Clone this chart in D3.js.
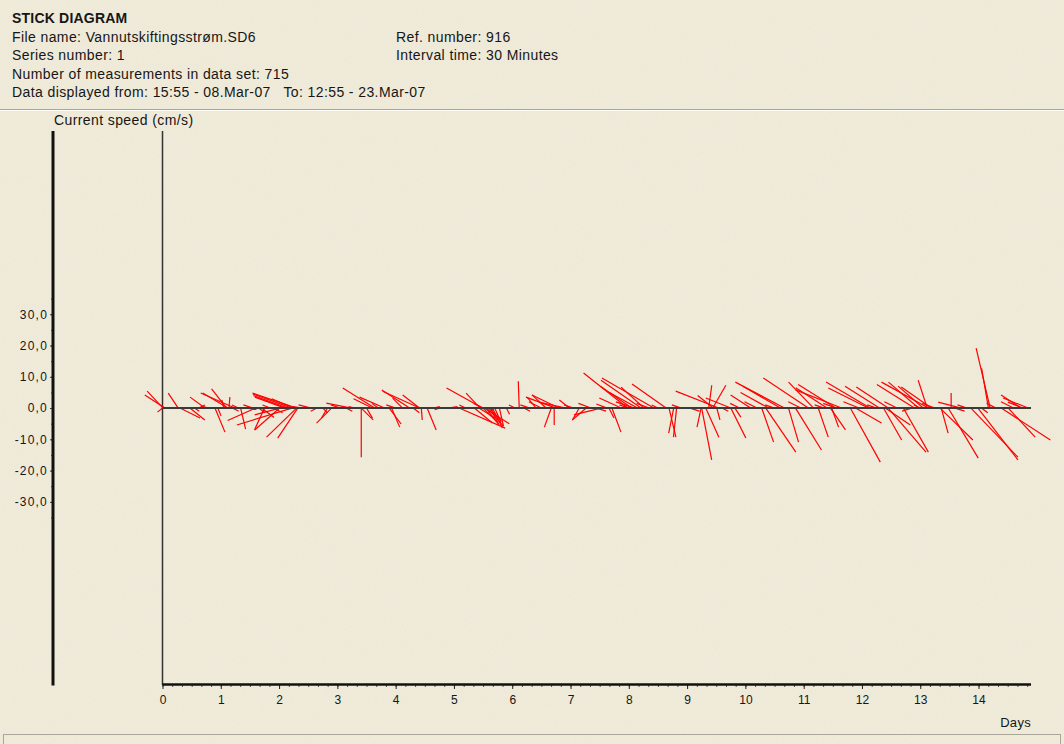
<!DOCTYPE html>
<html>
<head>
<meta charset="utf-8">
<script src="https://cdn.jsdelivr.net/npm/d3@7"></script>
<style>
  body { margin: 0; background: #efead8; }
  svg { display: block; }
  text { font-family: "Liberation Sans", Arial, sans-serif; fill: #161616; }
</style>
</head>
<body>
<svg id="chart" width="1064" height="744"></svg>
<script>
// header lines
let titleText = "STICK DIAGRAM"
let infoLeft = [
  "File name: Vannutskiftingsstrøm.SD6",
  "Series number: 1",
  "Number of measurements in data set: 715",
  "Data displayed from: 15:55 - 08.Mar-07   To: 12:55 - 23.Mar-07"
]
let infoRight = ["Ref. number: 916", "Interval time: 30 Minutes"]

let yTicks = [30, 20, 10, 0, -10, -20, -30]
let yTickLabels = ["30,0", "20,0", "10,0", "0,0", "-10,0", "-20,0", "-30,0"]
let dayTicks = [0, 1, 2, 3, 4, 5, 6, 7, 8, 9, 10, 11, 12, 13, 14]

// sticks: time (days), east and north component (cm/s)
let stickDay = [
  0.01, 0.04, 0.00, 0.27, 0.30, 0.47, 0.73, 0.90, 1.05, 1.10, 1.12, 1.14, 1.24, 1.34, 1.75,
  2.01, 2.01, 2.10, 2.22, 2.30, 2.22, 2.30, 2.32, 2.83, 2.90, 3.24, 3.41, 3.41, 3.50, 3.64,
  3.81, 3.89, 3.93, 4.12, 4.24, 4.41, 4.41, 4.44, 4.54, 5.09, 5.35, 5.43, 5.49, 5.45, 5.55,
  5.61, 5.66, 5.78, 6.12, 6.41, 6.58, 6.67, 6.72, 6.75, 6.80, 6.92, 6.98, 7.15, 7.27, 7.52,
  7.63, 7.66, 7.71, 7.87, 7.98, 8.21, 8.26, 8.43, 8.64, 8.69, 8.77, 8.82, 9.24, 9.25, 9.32,
  9.37, 9.44, 9.51, 9.54, 9.75, 9.75, 9.82, 10.09, 10.28, 10.35, 10.67, 10.74, 10.86, 11.08, 11.17,
  11.25, 11.46, 11.48, 11.65, 11.80, 11.89, 12.11, 12.14, 12.37, 12.40, 12.45, 12.45, 12.71, 12.97, 13.12,
  13.14, 13.19, 13.34, 13.36, 13.48, 13.53, 13.70, 13.87, 13.99, 14.20, 14.17, 14.39, 14.51, 14.73, 14.85,
  14.76,
  0.55, 0.62, 0.80, 0.95, 1.20, 1.30, 1.45, 1.55, 1.65, 1.85, 1.90, 2.40, 2.55, 2.65, 2.75,
  3.05, 3.15, 3.30, 3.70, 4.00, 4.30, 4.65, 4.75, 4.90, 5.20, 5.50, 5.70, 5.90, 6.05, 6.20,
  6.30, 6.50, 7.05, 7.35, 7.45, 8.00, 8.10, 8.35, 8.50, 8.90, 9.05, 9.60, 9.90, 10.20, 10.50,
  10.95, 11.35, 11.55, 11.95, 12.25, 12.60, 12.85, 13.00, 13.25, 13.60, 13.80, 14.05, 14.30, 14.60,
  5.50, 5.58, 5.63, 5.70, 5.52, 2.15, 2.25, 8.05, 8.15, 10.60, 11.40, 11.55, 12.30, 12.90, 13.05,
  1.60, 1.70, 3.60, 9.45, 10.40
]
let stickEast = [
  -5.1, -6.4, -1.6, -3.2, 6.4, 4.8, -4.8, 3.2, -0.6, -4.8, -8.0, 0.3, -10.9, 1.6, -3.2,
  -8.0, -8.0, -9.6, -12.5, -14.1, -17.6, -9.6, -6.4, -1.9, -4.8, -8.0, 0.0, 3.8, 1.9, -10.2,
  -8.0, 3.8, 2.6, -3.2, -8.9, -11.8, -5.4, 0.3, 2.9, 14.7, 5.8, 5.1, -11.5, -4.5, 4.2,
  3.8, 3.2, 1.3, -0.3, -2.9, -4.5, -2.2, 0.0, -9.6, -8.6, -8.6, -3.2, -2.2, -4.5, -8.6,
  -3.5, 1.6, 2.9, -7.0, -14.1, -12.8, -7.3, -16.6, -10.9, 2.2, -1.6, -1.0, -1.3, 3.2, 4.2,
  1.0, 4.2, 1.0, -13.7, -8.0, 4.8, 1.9, -6.4, 3.8, 9.6, -15.7, 3.2, 8.3, -14.4, -8.0,
  3.2, 4.8, 2.2, -14.7, 9.6, 8.3, -12.8, -14.1, 5.8, 8.0, -10.2, 12.1, 8.0, -9.6, -2.9,
  -15.0, -9.6, 10.5, 2.2, 9.6, 0.0, -7.3, 15.0, 12.8, -4.5, -2.2, 15.7, 8.6, -6.4, -8.0,
  -4.8,
  1.5, 2.0, -2.0, 1.0, 2.0, -2.0, 3.0, -3.0, 2.0, -2.5, 3.0, -3.0, -4.0, -2.0, 1.5,
  -3.0, 2.0, -2.0, -2.0, -3.0, 2.0, 2.0, -1.5, 3.0, -2.0, -3.0, -2.0, 1.0, -2.0, 2.0,
  -3.0, -4.0, -3.0, -4.0, 3.0, -3.0, -6.0, -4.0, -2.0, -3.0, 3.0, 2.0, -3.0, -4.0, -3.0,
  -4.0, -3.0, -4.0, -5.0, -3.0, -4.0, -3.0, -2.0, -4.0, 3.0, -3.0, 2.0, -3.0, -4.0,
  4.5, 5.0, 2.5, 2.0, 8.0, -11.0, -7.0, -10.0, -9.0, -12.0, -10.0, -12.0, -11.0, -12.0, -8.0,
  -9.0, 4.0, -6.0, -5.0, -9.0
]
let stickNorth = [
  5.4, 4.2, -1.3, 4.8, -3.2, -3.8, 3.5, -7.7, 2.6, 6.1, 4.8, 3.5, 4.8, -6.7, -7.0,
  -2.2, -7.0, 3.5, 4.5, 4.8, -5.4, -9.3, -9.6, -3.2, -4.8, 1.6, -15.7, -3.8, -3.2, 6.4,
  3.5, -5.1, -6.1, 3.2, 5.8, 5.4, 4.2, -3.8, -7.0, -6.4, -4.8, -3.2, 6.4, 4.8, -5.4,
  -4.2, -6.4, -5.8, 8.6, 3.5, 4.2, -6.1, -5.4, 3.5, 4.2, 1.9, 2.6, -3.8, -3.8, -2.2,
  1.3, -3.2, -7.7, 3.2, 11.2, 8.9, 6.7, 9.6, 7.7, -9.3, -8.0, -9.3, -6.1, -16.6, -9.3,
  7.3, 7.3, -3.8, 5.4, 3.2, -9.6, -2.9, 4.2, -10.9, -14.1, 8.3, -10.9, -13.4, 9.6, 8.3,
  -9.3, -7.0, -6.1, 5.8, -17.3, -4.8, 6.4, 8.3, -10.2, -5.4, 6.7, -14.1, -14.1, 8.3, 8.9,
  8.3, 6.7, -10.2, -8.0, -16.0, 4.8, 1.9, -15.7, -16.6, 19.2, 12.8, -10.2, -9.3, 4.2, 3.2,
  1.9,
  -1.0, 1.0, 0.5, -2.5, -1.0, 1.0, -0.5, 1.0, -1.5, 1.0, -1.5, 0.5, 1.0, -1.0, -1.5,
  1.0, -1.0, 0.5, 1.5, 1.0, -1.5, 0.5, -0.5, 0.5, 1.0, 1.5, -1.5, -2.0, 1.0, -1.0,
  1.0, 2.0, 1.0, 1.5, -1.0, 1.0, 2.0, 1.5, 1.0, 1.0, -1.0, -1.0, 1.5, 2.0, 1.0,
  2.0, 1.0, 1.5, 2.0, 1.0, 2.0, -1.0, 1.0, 1.5, -1.0, 1.0, -1.5, 1.5, 2.0,
  -4.5, -5.8, -5.0, -4.5, -5.0, 4.0, 3.0, 7.0, 5.0, 7.0, 6.5, 7.5, 7.0, 7.5, 7.0,
  -4.0, -3.0, 3.0, 4.0, 5.0
]

let svg = d3.select("#chart")

// paper grain
let defs = svg.append("defs")
let grain = defs.append("filter").attr("id", "grain").attr("x", 0).attr("y", 0).attr("width", "100%").attr("height", "100%")
grain.append("feTurbulence").attr("type", "fractalNoise").attr("baseFrequency", 0.9).attr("numOctaves", 1)
grain.append("feColorMatrix").attr("type", "saturate").attr("values", 0.6)
svg.append("rect").attr("width", 1064).attr("height", 744).attr("fill", "#f1ecda")
svg.append("rect").attr("width", 1064).attr("height", 744).attr("filter", "url(#grain)").attr("opacity", 0.08)

// header
svg.append("text").attr("x", 12).attr("y", 23).style("font-size", "14px").style("font-weight", "bold")
  .style("letter-spacing", "0.2px").text(titleText)
svg.selectAll(".infoL").data(infoLeft).enter().append("text")
  .attr("x", 12).attr("y", (d, i) => 42 + i * 18.3)
  .style("font-size", "14px").style("letter-spacing", "0.4px").style("white-space", "pre")
  .text(d => d)
svg.selectAll(".infoR").data(infoRight).enter().append("text")
  .attr("x", 396).attr("y", (d, i) => 42 + i * 18.3)
  .style("font-size", "14px").style("letter-spacing", "0.4px")
  .text(d => d)

// etched separators
svg.append("line").attr("x1", 0).attr("x2", 1064).attr("y1", 109.5).attr("y2", 109.5).attr("stroke", "#aaa69b")
svg.append("line").attr("x1", 0).attr("x2", 1064).attr("y1", 110.5).attr("y2", 110.5).attr("stroke", "#fdfcf6")
svg.append("rect").attr("x", 3.5).attr("y", 734.5).attr("width", 1057).attr("height", 20)
  .attr("fill", "none").attr("stroke", "#aaa69b")

// scales
let x = d3.scaleLinear().domain([0, 14.9]).range([162.5, 1031])
let y = d3.scaleLinear().domain([-88.4, 88.6]).range([684.5, 131])

// y label
svg.append("text").attr("x", 54).attr("y", 125).style("font-size", "14px").style("letter-spacing", "0.4px")
  .text("Current speed (cm/s)")

// left value axis
let yAxis = d3.axisLeft(y).tickValues(yTicks).tickSize(3).tickFormat((d, i) => yTickLabels[i])
let gy = svg.append("g").attr("transform", "translate(53,0)").call(yAxis)
gy.select(".domain").remove()
gy.selectAll("text").style("font-size", "12px").style("letter-spacing", "1.2px").attr("x", -5).attr("fill", "#161616")
gy.selectAll("line").attr("stroke", "#333")
let yMinor = d3.axisLeft(y).tickValues(d3.range(-35, 40, 5)).tickSize(2).tickFormat("")
let gym = svg.append("g").attr("transform", "translate(53,0)").call(yMinor)
gym.select(".domain").remove()
gym.selectAll("line").attr("stroke", "#555")
svg.append("line").attr("x1", 53).attr("x2", 53).attr("y1", 131).attr("y2", 685.5)
  .attr("stroke", "#111").attr("stroke-width", 3)

// inner vertical axis
svg.append("line").attr("x1", x(0)).attr("x2", x(0)).attr("y1", 131).attr("y2", 685)
  .attr("stroke", "#333").attr("stroke-width", 1.5)

// time axis
let xMinor = d3.axisBottom(x).tickValues(d3.range(0, 14.9, 1 / 6)).tickSize(2).tickFormat("")
let gxm = svg.append("g").attr("transform", "translate(0,685)").call(xMinor)
gxm.select(".domain").remove()
gxm.selectAll("line").attr("stroke", "#555")
let xAxis = d3.axisBottom(x).tickValues(dayTicks).tickSize(4).tickFormat(d3.format("d"))
let gx = svg.append("g").attr("transform", "translate(0,685)").call(xAxis)
gx.select(".domain").remove()
gx.selectAll("line").attr("stroke", "#222")
gx.selectAll("text").style("font-size", "12px").attr("y", 10).attr("fill", "#161616")
svg.append("line").attr("x1", x(0)).attr("x2", 1031).attr("y1", 684.5).attr("y2", 684.5)
  .attr("stroke", "#111").attr("stroke-width", 2.5)
svg.append("text").attr("x", 1031).attr("y", 727).attr("text-anchor", "end")
  .style("font-size", "13px").style("letter-spacing", "0.3px").text("Days")

// sticks
let k = y(0) - y(1)
let sticks = stickDay.map((d, i) => ({day: d, east: stickEast[i], north: stickNorth[i]}))
svg.append("g").selectAll("line").data(sticks).enter().append("line")
  .attr("x1", d => x(d.day)).attr("y1", y(0))
  .attr("x2", d => x(d.day) + d.east * k).attr("y2", d => y(d.north))
  .attr("stroke", "#ff0000").attr("stroke-width", 1.2)

// zero line
svg.append("line").attr("x1", x(0)).attr("x2", 1031).attr("y1", y(0)).attr("y2", y(0))
  .attr("stroke", "#3a3a3a").attr("stroke-width", 2)
</script>
</body>
</html>
